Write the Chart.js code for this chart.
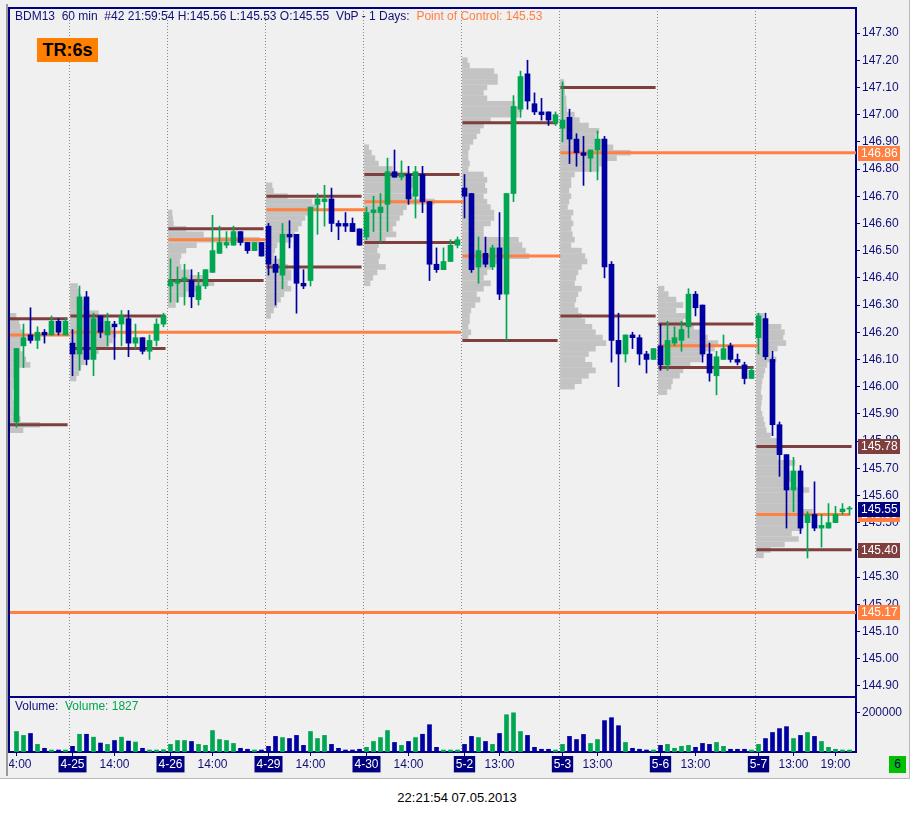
<!DOCTYPE html>
<html>
<head>
<meta charset="utf-8">
<script src="https://cdn.jsdelivr.net/npm/chart.js@4.4.1/dist/chart.umd.min.js"></script>
<style>
  body { margin: 0; background: #fff; font-family: "Liberation Sans", Arial, sans-serif; }
  #win { position: absolute; left: 0; top: 0; width: 909px; height: 778px; background: #f0f0f0;
         border-right: 1px solid #b9b9b9; border-bottom: 1px solid #b9b9b9; }
  canvas { position: absolute; }
  .ln { position: absolute; background: #000080; }
  #title { position: absolute; left: 15px; top: 9px; font-size: 12px; line-height: 14px; color: #10107a; white-space: pre; }
  #title span { color: #ff8040; }
  #tr { position: absolute; left: 37px; top: 38px; width: 61px; height: 24px; background: #ff8000;
        font: bold 18px "Liberation Sans", Arial, sans-serif; line-height: 24px; text-align: center; color: #000; }
  #vlab { position: absolute; left: 15px; top: 699px; font-size: 12px; line-height: 14px; color: #10107a; white-space: pre; }
  #vlab span { color: #00a651; }
  #six { position: absolute; left: 889px; top: 756px; width: 17px; height: 17px; background: #00c000;
         font-size: 12px; line-height: 17px; text-align: center; color: #000060; }
  #stamp { position: absolute; left: 0; top: 790px; width: 914px; text-align: center; font-size: 13px; color: #000; }
</style>
</head>
<body>
<div id="win">
  <div class="ln" style="left:6px;top:4px;width:2px;height:772px;background:#9a9a9a"></div>
  <canvas id="price" width="899" height="689" style="left:9px;top:8px"></canvas>
  <canvas id="vol" width="899" height="81" style="left:9px;top:697px"></canvas>
  <div class="ln" style="left:8px;top:7px;width:849px;height:2px"></div>
  <div class="ln" style="left:8px;top:7px;width:2px;height:746px"></div>
  <div class="ln" style="left:8px;top:696px;width:849px;height:2px"></div>
  <div id="title">BDM13  60 min  #42 21:59:54 H:145.56 L:145.53 O:145.55  VbP - 1 Days:  <span>Point of Control: 145.53</span></div>
  <div id="tr">TR:6s</div>
  <div id="vlab">Volume:  <span>Volume: 1827</span></div>
  <div id="six">6</div>
</div>
<div id="stamp">22:21:54 07.05.2013</div>
<script>
// hourly bars, 4-24 14:00 .. 5-7 21:00
const open = [
  145.87,146.15,146.19,146.17,146.20,146.19,146.24,146.19,
  146.16,146.12,146.33,146.10,146.26,146.19,146.23,146.23,146.25,146.16,146.18,146.13,146.17,146.23,
  146.37,146.38,146.39,146.39,146.32,146.37,146.42,146.49,146.52,146.52,146.57,146.53,146.50,146.53,
  146.59,146.45,146.41,146.56,146.56,146.38,146.39,146.67,146.68,146.69,146.60,146.60,146.60,146.58,
  146.55,146.64,146.64,146.67,146.79,146.77,146.78,146.70,146.78,146.68,146.45,146.43,146.46,146.52,
  146.73,146.71,146.44,146.49,146.44,146.51,146.34,146.71,147.02,147.15,147.04,147.01,147.01,146.97,
  146.95,146.99,146.91,146.86,146.84,146.87,146.91,146.45,146.17,146.12,146.19,146.18,146.12,146.10,
  146.15,146.08,146.16,146.17,146.22,146.34,146.30,146.12,146.04,146.10,146.15,146.10,146.08,146.03,
  146.18,146.25,146.10,145.86,145.75,145.62,145.69,145.50,145.53,145.48,145.48,145.50,145.54,145.55];
const high = [
  146.14,146.23,146.29,146.22,146.21,146.26,146.25,146.25,
  146.21,146.37,146.35,146.27,146.26,146.27,146.24,146.28,146.28,146.23,146.18,146.19,146.25,146.27,
  146.47,146.44,146.45,146.43,146.42,146.43,146.63,146.59,146.57,146.59,146.57,146.53,146.53,146.53,
  146.60,146.48,146.60,146.61,146.56,146.43,146.66,146.71,146.74,146.73,146.61,146.64,146.62,146.58,
  146.66,146.70,146.71,146.84,146.87,146.83,146.81,146.81,146.81,146.68,146.51,146.51,146.54,146.55,
  146.78,146.71,146.55,146.55,146.52,146.64,146.71,147.07,147.16,147.20,147.08,147.06,147.01,147.01,
  147.12,147.02,146.93,146.92,146.87,146.94,146.92,146.46,146.27,146.19,146.20,146.19,146.13,146.14,
  146.23,146.24,146.22,146.24,146.36,146.35,146.30,146.16,146.13,146.19,146.16,146.12,146.09,146.07,
  146.27,146.27,146.13,145.87,145.75,145.74,145.71,145.54,145.65,145.53,145.57,145.56,145.57,145.56];
const low = [
  145.85,146.07,146.16,146.14,146.16,146.19,146.19,146.19,
  146.04,146.06,146.08,146.04,146.18,146.15,146.10,146.15,146.11,146.14,146.12,146.10,146.15,146.22,
  146.31,146.31,146.30,146.29,146.30,146.36,146.42,146.49,146.51,146.52,146.52,146.49,146.50,146.48,
  146.41,146.30,146.36,146.51,146.27,146.36,146.37,146.56,146.59,146.57,146.54,146.57,146.57,146.52,
  146.54,146.57,146.53,146.57,146.77,146.76,146.67,146.62,146.64,146.39,146.42,146.43,146.46,146.51,
  146.62,146.42,146.38,146.44,146.43,146.32,146.17,146.68,146.99,147.02,147.00,146.98,146.96,146.96,
  146.90,146.82,146.81,146.74,146.79,146.76,146.40,146.09,146.00,146.09,146.14,146.08,146.05,146.10,
  146.06,146.06,146.15,146.13,146.18,146.26,146.09,146.02,145.97,146.10,146.09,146.08,146.01,146.03,
  146.12,146.10,145.82,145.67,145.48,145.54,145.46,145.37,145.47,145.41,145.48,145.50,145.53,145.53];
const close = [
  146.14,146.18,146.17,146.20,146.19,146.24,146.20,146.24,
  146.12,146.33,146.10,146.25,146.20,146.24,146.22,146.26,146.16,146.18,146.13,146.17,146.23,146.26,
  146.39,146.39,146.40,146.33,146.37,146.43,146.50,146.53,146.53,146.57,146.53,146.50,146.53,146.48,
  146.45,146.42,146.56,146.55,146.38,146.37,146.66,146.69,146.69,146.60,146.59,146.59,146.57,146.52,
  146.64,146.65,146.66,146.79,146.77,146.78,146.69,146.79,146.68,146.45,146.43,146.46,146.52,146.54,
  146.70,146.43,146.50,146.45,146.51,146.34,146.71,147.03,147.14,147.05,147.01,147.00,146.98,147.00,
  146.98,146.91,146.86,146.85,146.87,146.91,146.44,146.17,146.12,146.19,146.18,146.12,146.10,146.14,
  146.08,146.17,146.18,146.21,146.34,146.29,146.12,146.05,146.11,146.14,146.10,146.09,146.03,146.06,
  146.26,146.11,145.86,145.75,145.62,145.69,145.48,145.53,145.48,145.49,145.50,145.53,145.55,145.55];
const volume = [
  105000,85000,95000,39000,19000,8000,8000,8000,
  29000,91000,91000,76000,46000,39000,59000,76000,56000,51000,19000,8000,8000,12000,
  39000,59000,59000,54000,39000,34000,110000,64000,59000,44000,19000,14000,8000,8000,
  29000,80000,74000,69000,85000,34000,105000,69000,85000,39000,19000,8000,8000,14000,
  24000,54000,74000,110000,49000,34000,54000,74000,91000,140000,24000,8000,8000,8000,
  39000,80000,74000,54000,39000,95000,191000,201000,105000,85000,24000,14000,14000,8000,
  39000,80000,64000,90000,44000,64000,161000,176000,135000,49000,19000,14000,8000,8000,
  34000,39000,19000,29000,34000,24000,44000,39000,49000,29000,14000,14000,14000,8000,
  39000,69000,100000,120000,130000,69000,85000,100000,80000,54000,24000,14000,8000,1827];

// sessions: first bar of each day
const dayFirst = [0, 8, 22, 36, 50, 64, 78, 92, 106];
const dayLast  = [7, 21, 35, 49, 63, 77, 91, 105, 119];
const tickPos  = [0, 8, 14, 22, 28, 36, 42, 50, 56, 64, 69, 78, 83, 92, 97, 106, 111, 117];
const tickText = ['14:00','4-25','14:00','4-26','14:00','4-29','14:00','4-30','14:00',
                  '5-2','13:00','5-3','13:00','5-6','13:00','5-7','13:00','19:00'];
const priceTicks = [144.90,145.00,145.10,145.20,145.30,145.40,145.50,145.60,145.70,145.80,145.90,
                    146.00,146.10,146.20,146.30,146.40,146.50,146.60,146.70,146.80,146.90,
                    147.00,147.10,147.20,147.30];

// volume-by-price, 1 day: value area and point of control
const vah = [146.25, 146.26, 146.58, 146.70, 146.78, 146.97, 147.10, 146.23, 145.78];
const poc = [146.19, 146.20, 146.54, 146.65, 146.68, 146.48, 146.86, 146.15, 145.53];
const val = [145.86, 146.14, 146.39, 146.44, 146.53, 146.17, 146.26, 146.07, 145.40];
const pocUntil = [7.57, 63.5, 35.57, 50, 63.86, 77.7, 120, 105.86, 119.1];
const oldPoc = 145.17;

// profile rows, 0.02 apart, from the top price down (length in bars)
const profTop = [146.26, 146.37, 146.64, 146.74, 146.88, 147.20, 147.12, 146.36, 146.26];
const profLen = [
  [1.0,1.4,1.6,2.0,2.2,1.8,1.6,2.0,2.4,3.0,1.2,0.8,0.6,0.6,0.5,0.5,0.6,0.6,0.8,1.6,4.4,2.0],
  [1.0,1.3,1.5,1.8,2.5,4.0,5.0,5.5,6.0,6.5,6.0,5.5,4.0,3.0,2.0,1.5,1.2,0.8],
  [0.5,0.6,0.7,2.5,5.0,13.0,4.0,2.5,1.8,1.6,1.8,3.0,5.0,6.5,4.0,2.5,1.5,1.0],
  [0.8,1.0,3.0,6.5,7.5,6.5,5.5,5.0,4.5,4.0,3.5,1.5,1.2,1.0,2.0,3.0,3.5,3.5,3.0,3.5,2.5,2.0,1.5,1.0,0.6],
  [0.6,1.0,1.5,2.0,4.0,6.5,7.0,7.0,6.5,7.0,10.0,6.0,5.5,5.0,4.5,4.0,4.5,3.0,2.0,1.8,2.2,2.0,3.0,1.8,1.2,0.8],
  [0.7,1.0,4.5,5.0,5.0,3.5,3.0,3.5,7.5,8.5,8.0,4.0,3.0,2.5,2.0,1.5,1.0,0.8,0.8,1.0,
   0.8,3.0,3.5,3.2,3.5,3.0,3.5,4.0,4.5,4.5,4.0,3.0,3.0,8.0,8.5,9.0,9.5,5.0,4.0,3.5,
   3.0,4.0,3.0,2.0,2.5,1.8,1.2,1.0,1.0,0.8,1.2,0.8],
  [0.5,0.6,0.6,0.8,0.8,0.9,2.0,2.7,4.0,5.5,5.0,6.0,7.5,10.0,8.0,6.5,5.5,2.0,1.5,1.5,
   1.2,1.5,1.2,1.0,1.8,1.5,1.8,1.5,1.7,2.0,1.5,3.0,3.5,3.8,3.0,2.5,2.2,2.0,3.0,2.5,
   2.2,2.0,2.5,3.0,3.5,4.5,5.0,6.0,6.5,5.0,4.0,3.5,4.5,5.0,4.0,3.0,2.0],
  [0.8,1.4,2.5,3.5,2.5,4.0,3.5,5.0,6.5,7.0,8.5,8.0,6.5,6.0,4.5,3.5,3.0,2.0,1.8,1.2],
  [1.0,1.6,3.5,4.0,3.8,4.2,3.0,2.0,2.8,1.5,1.2,1.0,0.8,0.7,0.6,0.8,0.7,0.6,0.8,1.0,
   1.2,1.4,2.0,3.0,3.2,3.0,3.0,5.5,4.5,4.8,5.0,4.5,7.5,6.0,6.5,6.0,8.0,6.5,6.0,6.5,
   5.0,6.0,4.0,2.0,1.0]
];

const GREEN = '#00a651', BLUE = '#0000a0', NAVY = '#000080', TEXT = '#10107a';
const ORANGE = '#ff8040', BROWN = '#7f3f3f';
const FONT = { family: '"Liberation Sans", Arial, sans-serif', size: 12 };
const xMin = -1.0714, xMax = 119.9286;

Chart.defaults.font.family = FONT.family;
Chart.defaults.font.size = 12;

const idx = open.map((_, i) => i);
const barColor = idx.map(i => close[i] >= open[i] ? GREEN : BLUE);
const separators = dayFirst.slice(1).map(f => f - 0.43);
const dayStart = d => d === 0 ? xMin : dayFirst[d] - 0.3;

const profData = [];
profLen.forEach((rows, d) => {
  rows.forEach((len, r) => {
    profData.push({ y: +(profTop[d] - 0.02 * r).toFixed(2), x: [dayStart(d), dayStart(d) + len] });
  });
});

function levelLine(levels, ends) {
  const pts = [];
  levels.forEach((p, d) => {
    pts.push({ x: dayStart(d), y: p }, { x: ends[d], y: p }, { x: ends[d], y: null });
  });
  return pts;
}
const pocPts = levelLine(poc, pocUntil).concat([{ x: xMin, y: oldPoc }, { x: xMax, y: oldPoc }]);
const vaEnd = dayLast.map(l => l + 0.3);
const vaPts = levelLine(vah, vaEnd).concat(levelLine(val, vaEnd));

// price tags on the right axis
const tags = [
  { v: poc[6], bg: ORANGE }, { v: vah[8], bg: BROWN }, { v: poc[8], bg: ORANGE },
  { v: close[close.length - 1], bg: NAVY }, { v: val[8], bg: BROWN }, { v: oldPoc, bg: ORANGE }
];
const tagPlugin = {
  id: 'tags',
  afterDraw(chart) {
    const { ctx, chartArea, scales } = chart;
    ctx.save();
    ctx.font = '12px ' + FONT.family;
    ctx.textBaseline = 'middle';
    tags.forEach(t => {
      const py = Math.round(scales.y.getPixelForValue(t.v));
      ctx.fillStyle = t.bg;
      ctx.fillRect(chartArea.right + 2, py - 7, 42, 15);
      ctx.fillStyle = '#fff';
      ctx.fillText(t.v.toFixed(2), chartArea.right + 5, py + 1);
    });
    ctx.restore();
  }
};

const noPad = s => { s.paddingLeft = 0; s.paddingRight = 0; s.paddingTop = 0; s.paddingBottom = 0; };

new Chart(document.getElementById('price'), {
  type: 'bar',
  data: {
    datasets: [
      { label: 'body', data: idx.map(i => ({ x: i, y: [open[i], close[i]] })),
        backgroundColor: barColor, barThickness: 5, minBarLength: 1, grouped: false, order: 0 },
      { label: 'wick', data: idx.map(i => ({ x: i, y: [low[i], high[i]] })),
        backgroundColor: barColor, barThickness: 1, grouped: false, order: 1 },
      { type: 'line', label: 'poc', data: pocPts, borderColor: ORANGE, borderWidth: 3,
        pointRadius: 0, spanGaps: false, order: 2 },
      { type: 'line', label: 'va', data: vaPts, borderColor: BROWN, borderWidth: 3,
        pointRadius: 0, spanGaps: false, order: 3 },
      { label: 'profile', indexAxis: 'y', data: profData, backgroundColor: '#c3c3c3',
        barThickness: 5, grouped: false, order: 5 }
    ]
  },
  options: {
    responsive: false, animation: false, devicePixelRatio: 1, events: [],
    layout: { padding: 0 },
    plugins: { legend: { display: false }, tooltip: { enabled: false } },
    scales: {
      x: {
        type: 'linear', min: xMin, max: xMax, offset: false,
        afterBuildTicks: s => { s.ticks = separators.map(v => ({ value: v })); },
        afterFit: s => { s.height = 0; noPad(s); },
        ticks: { display: false },
        grid: { color: '#8a8a8a', drawTicks: false, lineWidth: 1, offset: false },
        border: { display: false, dash: [1, 2] }
      },
      y: {
        type: 'linear', position: 'right', min: 144.859, max: 147.392, offset: false,
        afterBuildTicks: s => { s.ticks = priceTicks.map(v => ({ value: v })); },
        afterFit: s => { s.width = 52; noPad(s); },
        ticks: { callback: v => v.toFixed(2), color: TEXT, font: FONT, padding: 2, autoSkip: false },
        grid: { drawOnChartArea: false, drawTicks: true, tickLength: 4, color: NAVY, offset: false },
        border: { display: true, color: NAVY, width: 2 }
      }
    }
  },
  plugins: [tagPlugin]
});

const isDate = c => tickText[c.index] && tickText[c.index].indexOf('-') > 0;

new Chart(document.getElementById('vol'), {
  type: 'bar',
  data: {
    datasets: [
      { label: 'Volume', data: idx.map(i => ({ x: i, y: volume[i] })),
        backgroundColor: barColor, barThickness: 4, minBarLength: 2, grouped: false }
    ]
  },
  options: {
    responsive: false, animation: false, devicePixelRatio: 1, events: [],
    layout: { padding: 0 },
    plugins: { legend: { display: false }, tooltip: { enabled: false } },
    scales: {
      x: {
        type: 'linear', position: 'bottom', min: xMin, max: xMax, offset: false,
        afterBuildTicks: s => { s.ticks = tickPos.map(v => ({ value: v })); },
        afterFit: s => { s.height = 26; noPad(s); },
        ticks: {
          autoSkip: false, maxRotation: 0, padding: 1, font: FONT,
          callback: (v, i) => tickText[i],
          color: c => isDate(c) ? '#ffffff' : TEXT,
          showLabelBackdrop: c => isDate(c),
          backdropColor: NAVY,
          backdropPadding: { top: 1, bottom: 1, left: 2, right: 2 }
        },
        grid: { drawOnChartArea: false, drawTicks: true, tickLength: 4, color: NAVY, offset: false },
        border: { display: true, color: NAVY, width: 2 }
      },
      xg: {
        type: 'linear', position: 'bottom', min: xMin, max: xMax, offset: false,
        afterBuildTicks: s => { s.ticks = separators.map(v => ({ value: v })); },
        afterFit: s => { s.height = 0; noPad(s); },
        ticks: { display: false },
        grid: { color: '#8a8a8a', drawTicks: false, lineWidth: 1, offset: false },
        border: { display: false, dash: [1, 2] }
      },
      y: {
        type: 'linear', position: 'right', min: 0, max: 282000, offset: false,
        afterBuildTicks: s => { s.ticks = [{ value: 200000 }]; },
        afterFit: s => { s.width = 52; noPad(s); },
        ticks: { callback: v => String(v), color: TEXT, font: FONT, padding: 2 },
        grid: { drawOnChartArea: false, drawTicks: true, tickLength: 4, color: NAVY, offset: false },
        border: { display: true, color: NAVY, width: 2 }
      }
    }
  }
});
</script>
</body>
</html>
